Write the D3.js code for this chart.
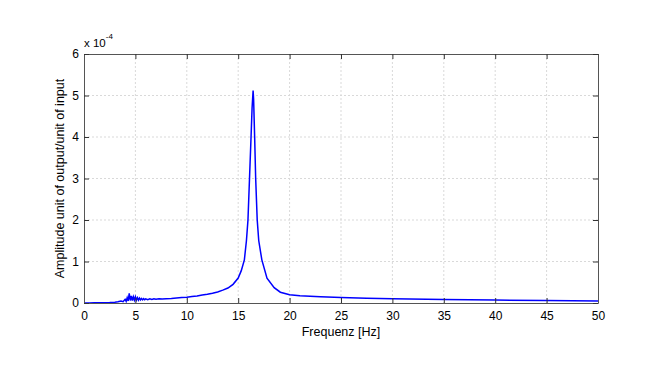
<!DOCTYPE html>
<html>
<head>
<meta charset="utf-8">
<script src="https://cdn.jsdelivr.net/npm/d3@7"></script>
<style>
  body { margin: 0; background: #fff; }
  text { font-family: "Liberation Sans", Arial, sans-serif; fill: #000; }
  .grid line { stroke: #d9d9d9; stroke-dasharray: 2,2; }
</style>
</head>
<body>
<script>
// frequency in Hz, amplitude in units of 1e-4
var freqs = [0, 0.5, 1, 1.5, 2, 2.5, 3, 3.3, 3.6, 3.8, 4.0, 4.1, 4.2, 4.3, 4.4, 4.5, 4.6, 4.7, 4.8, 4.9,
  5.0, 5.1, 5.2, 5.3, 5.4, 5.5, 5.6, 5.7, 5.8, 5.9, 6.0, 6.2, 6.4, 6.6, 6.8, 7.0, 7.3, 7.6, 8.0, 8.5,
  9, 9.5, 10, 10.5, 11, 11.5, 12, 12.5, 13, 13.5, 14, 14.5, 15, 15.3, 15.6, 15.8, 15.95, 16.1, 16.25, 16.35,
  16.45, 16.5, 16.6, 16.7, 16.85, 17.0, 17.3, 17.8, 18.5, 19.1, 20, 21, 22, 23, 25, 27.5, 30, 35, 40, 45, 50];
var amps = [0, 0.002, 0.004, 0.006, 0.009, 0.013, 0.02, 0.028, 0.045, 0.03, 0.09, 0.04, 0.13, 0.05, 0.23, 0.06, 0.17, 0.06, 0.15, 0.07,
  0.15, 0.07, 0.13, 0.07, 0.12, 0.075, 0.11, 0.075, 0.105, 0.08, 0.1, 0.08, 0.1, 0.085, 0.1, 0.09, 0.1, 0.095, 0.105, 0.11,
  0.12, 0.13, 0.14, 0.155, 0.17, 0.19, 0.21, 0.235, 0.265, 0.31, 0.36, 0.45, 0.6, 0.78, 1.04, 1.5, 2.0, 3.0, 4.0, 4.7,
  5.12, 4.9, 4.0, 3.0, 2.0, 1.5, 1.04, 0.6, 0.37, 0.26, 0.2, 0.175, 0.16, 0.15, 0.13, 0.115, 0.1, 0.085, 0.07, 0.06, 0.05];
var xTicks = [0, 5, 10, 15, 20, 25, 30, 35, 40, 45, 50];
var yTicks = [0, 1, 2, 3, 4, 5, 6];

var margin = {top: 54, right: 50, bottom: 72, left: 84},
    width = 648 - margin.left - margin.right,
    height = 375 - margin.top - margin.bottom;

var x = d3.scaleLinear().domain([0, 50]).range([0, width]);
var y = d3.scaleLinear().domain([0, 6]).range([height, 0]);

var svg = d3.select("body").append("svg")
  .attr("width", 648)
  .attr("height", 375)
  .append("g")
  .attr("transform", "translate(" + margin.left + "," + margin.top + ")");

// grid
svg.append("g").attr("class", "grid")
  .selectAll("line").data(xTicks.slice(1, -1)).enter().append("line")
  .attr("x1", x).attr("x2", x).attr("y1", 0).attr("y2", height);
svg.append("g").attr("class", "grid")
  .selectAll("line").data(yTicks.slice(1, -1)).enter().append("line")
  .attr("y1", y).attr("y2", y).attr("x1", 0).attr("x2", width);

var points = freqs.map(function(f, i) { return {f: f, a: amps[i]}; });

var valueline = d3.line()
  .x(function(d) { return x(d.f); })
  .y(function(d) { return y(d.a); });

svg.append("path")
  .datum(points)
  .attr("fill", "none")
  .attr("stroke", "#0000ff")
  .attr("stroke-width", 1.5)
  .attr("d", valueline);

// axes, ticks inward on all four sides
function styleAxis(g) {
  g.select(".domain").attr("stroke", "#555");
  g.selectAll(".tick line").attr("stroke", "#333");
  g.selectAll(".tick text").style("font-size", "12px").style("font-family", "Liberation Sans, Arial, sans-serif");
}

svg.append("g")
  .attr("transform", "translate(0," + height + ")")
  .call(d3.axisBottom(x).tickValues(xTicks).tickSizeInner(-5).tickSizeOuter(0).tickPadding(8))
  .call(styleAxis);
svg.append("g")
  .call(d3.axisTop(x).tickValues(xTicks).tickSizeInner(-5).tickSizeOuter(0).tickFormat(""))
  .call(styleAxis);
svg.append("g")
  .call(d3.axisLeft(y).tickValues(yTicks).tickSizeInner(-5).tickSizeOuter(0).tickPadding(5).tickFormat(d3.format("d")))
  .call(styleAxis);
svg.append("g")
  .attr("transform", "translate(" + width + ",0)")
  .call(d3.axisRight(y).tickValues(yTicks).tickSizeInner(-5).tickSizeOuter(0).tickFormat(""))
  .call(styleAxis);

// exponent label
var ex = svg.append("text")
  .attr("x", 0).attr("y", -7)
  .style("font-size", "11.5px");
ex.append("tspan").text("x 10");
ex.append("tspan").attr("dy", -8).style("font-size", "8px").text("-4");

svg.append("text")
  .attr("text-anchor", "middle")
  .attr("x", width / 2)
  .attr("y", height + 33)
  .style("font-size", "12.5px")
  .text("Frequenz [Hz]");

svg.append("text")
  .attr("text-anchor", "middle")
  .attr("transform", "translate(-20," + (height / 2) + ") rotate(-90)")
  .style("font-size", "12.5px")
  .text("Amplitude unit of output/unit of input");
</script>
</body>
</html>
